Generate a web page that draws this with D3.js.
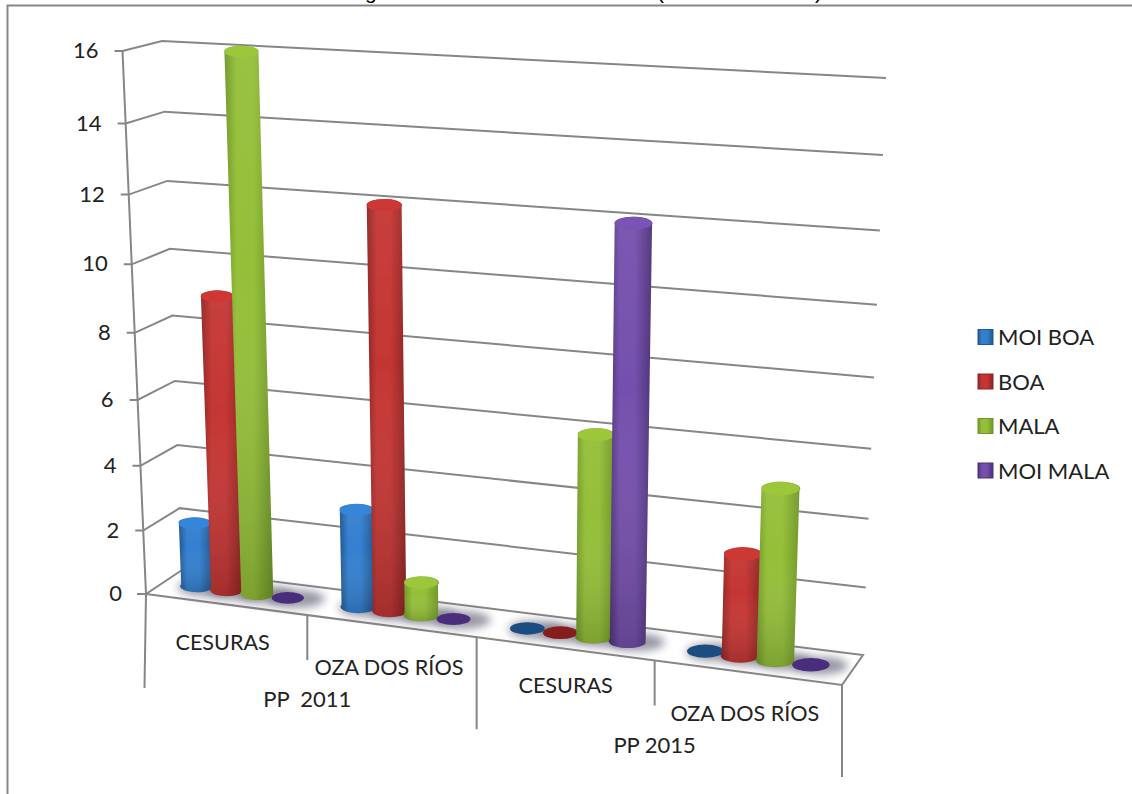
<!DOCTYPE html>
<html>
<head>
<meta charset="utf-8">
<script src="https://cdn.jsdelivr.net/npm/d3@7"></script>
<style>
  html, body { margin: 0; padding: 0; background: #fff; }
  svg { display: block; }
  text { font-family: Lato, "Open Sans", sans-serif; fill: #222; white-space: pre; }
</style>
</head>
<body>
<svg id="chart" width="1132" height="794"></svg>
<script>
// data
var groups = ["PP  2011", "PP 2015"];
var categories = ["CESURAS", "OZA DOS RÍOS", "CESURAS", "OZA DOS RÍOS"];
var seriesNames = ["MOI BOA", "BOA", "MALA", "MOI MALA"];
var moiBoa = [2, 3, 0, 0];
var boa = [9, 12, 0, 3];
var mala = [16, 1, 6, 5];
var moiMala = [0, 0, 12, 0];
var yTicks = [0, 2, 4, 6, 8, 10, 12, 14, 16];
var colors = [
    { edge: "#23578f", mid: "#3480d0", flat: "#1f4d80" },
    { edge: "#8f2524", mid: "#c43634", flat: "#861d1f" },
    { edge: "#6f9729", mid: "#95bf39", flat: "#6b9127" },
    { edge: "#4d3278", mid: "#7550ad", flat: "#4a2d7c" }
];

var seriesValues = [moiBoa, boa, mala, moiMala];
var grey = "#868686";

// the 8 corners of the 3d box as they land on the page
// f/b = front/back, l/r = left/right, 0/1 = floor/ceiling
var box = {
    fl0: [146, 594], fr0: [842, 685], bl0: [182, 570], br0: [863, 655],
    fl1: [122.5, 51], fr1: [863, 94], bl1: [162, 41], br1: [886, 78]
};

var catScale = d3.scaleLinear().domain([0, categories.length]).range([0, 1]);
var yScale = d3.scaleLinear().domain([0, 16]).range([0, 1]);

// foreshortening
function warp(t, c) { return c * t / (1 + (c - 1) * t); }

function mix(a, b, t) { return [a[0] + (b[0] - a[0]) * t, a[1] + (b[1] - a[1]) * t]; }

// u along the categories, d into the page, val on the value axis
function project(u, d, val) {
    var uu = warp(u, 0.905), vv = warp(yScale(val), 0.927);
    var floor = mix(mix(box.fl0, box.fr0, uu), mix(box.bl0, box.br0, uu), d);
    var top = mix(mix(box.fl1, box.fr1, uu), mix(box.bl1, box.br1, uu), d);
    return mix(floor, top, vv);
}

var svg = d3.select("#chart");
var defs = svg.append("defs");

defs.append("filter").attr("id", "soft")
    .attr("x", "-50%").attr("y", "-100%").attr("width", "200%").attr("height", "300%")
    .append("feGaussianBlur").attr("stdDeviation", 4);

defs.append("filter").attr("id", "edge")
    .attr("x", "-10%").attr("y", "-10%").attr("width", "120%").attr("height", "120%")
    .append("feGaussianBlur").attr("stdDeviation", 0.6);

defs.append("clipPath").attr("id", "title-clip")
    .append("rect").attr("width", 1132).attr("height", 4);

colors.forEach(function(c, i) {
    var g = defs.append("linearGradient").attr("id", "side" + i);
    [[0, c.edge], [0.25, c.mid], [0.6, c.mid], [1, c.edge]].forEach(function(s) {
        g.append("stop").attr("offset", s[0]).attr("stop-color", s[1]);
    });
});

// a little darker at the foot of a bar
var shade = defs.append("linearGradient").attr("id", "shade")
    .attr("x1", 0).attr("y1", 0).attr("x2", 0).attr("y2", 1);
shade.append("stop").attr("offset", 0).attr("stop-color", "#fff").attr("stop-opacity", 0.05);
shade.append("stop").attr("offset", 0.4).attr("stop-color", "#fff").attr("stop-opacity", 0);
shade.append("stop").attr("offset", 1).attr("stop-color", "#000").attr("stop-opacity", 0.16);

// the top of the page cuts the title off, only the tails of these are left
var title = svg.append("g").attr("clip-path", "url(#title-clip)");
title.selectAll("text")
    .data([["g", 365], ["(", 657], [")", 815]])
    .enter().append("text")
    .attr("x", function(d) { return d[1]; })
    .attr("y", -1)
    .attr("font-size", 21)
    .style("font-family", "'Liberation Sans'")
    .style("fill", "#000")
    .text(function(d) { return d[0]; });

// frame
svg.append("path")
    .attr("d", "M7.5,794V5.5H1132")
    .attr("fill", "none").attr("stroke", grey).attr("stroke-width", 2);

var line = d3.line();
var grid = svg.append("g").attr("fill", "none").attr("stroke", grey).attr("stroke-width", 2);

// walls
grid.selectAll(".wall")
    .data(yTicks.filter(function(d) { return d > 0; }))
    .enter().append("path")
    .attr("class", "wall")
    .attr("d", function(d) {
        var f = project(0, 0, d);
        return line([[f[0] - 8, f[1]], f, project(0, 1, d), project(1, 1, d)]);
    });

// floor
grid.append("path")
    .attr("d", line([[box.fl0[0] - 9, box.fl0[1]], box.fl0, box.bl0, box.br0, box.fr0, box.fl0]));

// value axis
grid.append("path").attr("d", line([box.fl1, box.fl0, [144.5, 688]]));

// category separators, every other one drops to the group row
d3.range(1, categories.length + 1).forEach(function(i) {
    var p = project(catScale(i), 0, 0);
    grid.append("path").attr("d", line([p, [p[0], p[1] + (i % 2 ? 45 : 92)]]));
});

svg.selectAll(".tick-label")
    .data(yTicks)
    .enter().append("text")
    .attr("class", "tick-label")
    .attr("x", function(d) { return project(0, 0, d)[0] - 24; })
    .attr("y", function(d) { return project(0, 0, d)[1] + 7; })
    .attr("text-anchor", "end")
    .attr("font-size", 22)
    .text(function(d) { return d; });

// category labels hang under their stretch of the front edge
var labelNudge = [-4, -3, 0, -3.5];
svg.selectAll(".cat-label")
    .data(categories)
    .enter().append("text")
    .attr("class", "cat-label")
    .attr("x", function(d, i) { return (project(catScale(i), 0, 0)[0] + project(catScale(i + 1), 0, 0)[0]) / 2 + labelNudge[i]; })
    .attr("y", function(d, i) { return project(catScale(i), 0, 0)[1] + (i % 2 ? 60 : 56); })
    .attr("text-anchor", "middle")
    .attr("font-size", 21.6)
    .text(function(d) { return d; });

svg.selectAll(".group-label")
    .data(groups)
    .enter().append("text")
    .attr("class", "group-label")
    .attr("x", function(d, i) { return project(catScale(i * 2 + 1), 0, 0)[0]; })
    .attr("y", function(d, i) { return project(catScale(i * 2 + 1), 0, 0)[1] + 92; })
    .attr("text-anchor", "middle")
    .attr("font-size", 22)
    .text(function(d) { return d; });

// one record per bar
var bars = [];
categories.forEach(function(c, i) {
    seriesValues.forEach(function(vals, s) {
        bars.push({ cat: i, series: s, value: vals[i], u: catScale(i + 0.21 + 0.19 * s) });
    });
});

var halfWidth = catScale(0.1);
var depth = 0.5;

// shadows go down first so that no bar sits under one
svg.append("g").selectAll("ellipse")
    .data(bars)
    .enter().append("ellipse")
    .attr("cx", function(d) { return project(d.u, depth, 0)[0] + 9; })
    .attr("cy", function(d) { return project(d.u, depth, 0)[1] + 1; })
    .attr("rx", 28).attr("ry", 9)
    .attr("fill", "#6d6d80").attr("opacity", 0.7)
    .attr("filter", "url(#soft)");

var barG = svg.append("g").selectAll("g")
    .data(bars)
    .enter().append("g")
    .attr("class", "bar")
    .attr("filter", "url(#edge)");

barG.each(function(d) {
    var g = d3.select(this);
    var b0 = project(d.u - halfWidth, depth, 0), b1 = project(d.u + halfWidth, depth, 0);
    var rx = (b1[0] - b0[0]) / 2, ry = rx * 0.36;
    var c = colors[d.series];

    if (d.value === 0) {
        // empty bar, only its disc on the floor
        var p = project(d.u, depth, 0);
        g.append("ellipse")
            .attr("cx", p[0]).attr("cy", p[1])
            .attr("rx", rx).attr("ry", ry)
            .attr("fill", c.flat);
        return;
    }

    var t0 = project(d.u - halfWidth, depth, d.value), t1 = project(d.u + halfWidth, depth, d.value);
    var top = project(d.u, depth, d.value);
    var topRx = (t1[0] - t0[0]) / 2;
    var body = "M" + t0 + "L" + b0
        + "A" + rx + "," + ry + " 0 0 0 " + b1
        + "L" + t1
        + "A" + topRx + "," + ry + " 0 0 0 " + t0 + "Z";

    g.append("path").attr("d", body).attr("fill", "url(#side" + d.series + ")");
    g.append("path").attr("d", body).attr("fill", "url(#shade)");

    g.append("ellipse")
        .attr("cx", top[0]).attr("cy", top[1])
        .attr("rx", topRx).attr("ry", ry)
        .attr("fill", d3.color(c.mid).brighter(0.12));
});

// legend
var legend = svg.append("g").selectAll("g")
    .data(seriesNames)
    .enter().append("g")
    .attr("transform", function(d, i) { return "translate(978," + (337 + i * 44.5) + ")"; });

legend.append("rect")
    .attr("y", -7.5).attr("width", 15).attr("height", 15)
    .attr("fill", function(d, i) { return "url(#side" + i + ")"; })
    .attr("stroke", function(d, i) { return colors[i].edge; });

legend.append("text")
    .attr("x", 20).attr("y", 8)
    .attr("font-size", 22)
    .text(function(d) { return d; });
</script>
</body>
</html>
